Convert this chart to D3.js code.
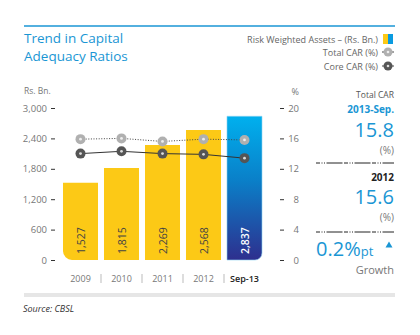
<!DOCTYPE html>
<html>
<head>
<meta charset="utf-8">
<script src="https://cdn.jsdelivr.net/npm/d3@7"></script>
<style>
  body { margin: 0; background: #fff; }
  text { font-family: "Open Sans", sans-serif; }
</style>
</head>
<body>
<div class="canva"></div>
<script>
// data
const categories = ["2009", "2010", "2011", "2012", "Sep-13"];
const rwaValues = [1527, 1815, 2269, 2568, 2837];
const totalCar = [15.9, 16.0, 15.6, 15.9, 15.8];
const coreCar = [14.0, 14.3, 14.0, 13.9, 13.4];
const leftTicks = [0, 600, 1200, 1800, 2400, 3000];
const rightTicks = [0, 4, 8, 12, 16, 20];

const blue = "#1a96d4";
const yellow = "#fcc916";

const svg = d3.select(".canva").append("svg")
  .attr("width", 420)
  .attr("height", 335);

const defs = svg.append("defs");
const grad = defs.append("linearGradient")
  .attr("id", "blueBar")
  .attr("x1", 0).attr("y1", 0).attr("x2", 0).attr("y2", 1);
grad.append("stop").attr("offset", "0%").attr("stop-color", "#00b0ee");
grad.append("stop").attr("offset", "45%").attr("stop-color", "#0a7fc8");
grad.append("stop").attr("offset", "100%").attr("stop-color", "#2e2f8e");

// header
svg.append("line")
  .attr("x1", 24).attr("x2", 395)
  .attr("y1", 26).attr("y2", 26)
  .attr("stroke", blue).attr("stroke-width", 1.3);

svg.append("text").attr("x", 24).attr("y", 43)
  .text("Trend in Capital")
  .style("font-size", "13.5px").style("fill", blue);
svg.append("text").attr("x", 24).attr("y", 60.5)
  .text("Adequacy Ratios")
  .style("font-size", "13.5px").style("fill", blue);

// scales
const x = d3.scaleBand()
  .domain(categories)
  .range([60, 265])
  .paddingInner(0.146)
  .paddingOuter(0.073);

const yLeft = d3.scaleLinear().domain([0, 3000]).range([260, 108]);
const yRight = d3.scaleLinear().domain([0, 20]).range([260, 108]);

// left axis
const leftAxis = svg.append("g")
  .attr("transform", "translate(55,0)")
  .call(d3.axisLeft(yLeft).tickValues(leftTicks).tickFormat(d3.format(",")).tickSize(4).tickPadding(4));
leftAxis.select(".domain").remove();
leftAxis.selectAll("line").attr("stroke", "#333");
leftAxis.selectAll("text").style("font-size", "9.5px").style("fill", "#777")
  .style("font-family", "Open Sans, sans-serif");

svg.append("text").attr("x", 24).attr("y", 94)
  .text("Rs. Bn.").style("font-size", "8.5px").style("fill", "#777");

// right axis
const rightAxis = svg.append("g")
  .attr("transform", "translate(280,0)")
  .call(d3.axisRight(yRight).tickValues(rightTicks).tickSize(4));
rightAxis.select(".domain").remove();
rightAxis.selectAll("line").attr("stroke", "#333");
rightAxis.selectAll("text")
  .attr("x", 19).attr("text-anchor", "end")
  .style("font-size", "9.5px").style("fill", "#777")
  .style("font-family", "Open Sans, sans-serif");

svg.append("text").attr("x", 299).attr("y", 95).attr("text-anchor", "end")
  .text("%").style("font-size", "9px").style("fill", "#777");

// bar path with optional rounded bottom corners
function barPath(x0, y0, w, h, rl, rr) {
  const y1 = y0 + h;
  return `M${x0},${y0}H${x0 + w}` +
    `V${y1 - rr}` + (rr ? `A${rr},${rr} 0 0 1 ${x0 + w - rr},${y1}` : "") +
    `H${x0 + rl}` + (rl ? `A${rl},${rl} 0 0 1 ${x0},${y1 - rl}` : "") +
    `Z`;
}

const last = categories.length - 1;
svg.append("g").selectAll("path")
  .data(rwaValues)
  .enter()
  .append("path")
  .attr("d", (d, i) => barPath(x(categories[i]), yLeft(d), x.bandwidth(), yLeft(0) - yLeft(d),
    i === 0 ? 9 : 0, i === last ? 7 : 0))
  .attr("fill", (d, i) => i === last ? "url(#blueBar)" : yellow)
  .attr("stroke", (d, i) => i === last ? "#8fd3f2" : "none")
  .attr("stroke-width", 0.6);

// bar value labels
svg.append("g").selectAll("text")
  .data(rwaValues)
  .enter()
  .append("text")
  .attr("transform", (d, i) => `translate(${x(categories[i]) + x.bandwidth() / 2 + 4},254) rotate(-90)`)
  .text(d => d3.format(",")(d))
  .style("font-size", "10.5px")
  .style("font-weight", (d, i) => i === last ? "600" : "400")
  .style("fill", (d, i) => i === last ? "#fff" : "#444");

// x labels + separators
svg.append("g").selectAll("text")
  .data(categories)
  .enter()
  .append("text")
  .attr("x", d => x(d) + x.bandwidth() / 2)
  .attr("y", 282)
  .attr("text-anchor", "middle")
  .text(d => d)
  .style("font-size", "9px")
  .style("font-weight", (d, i) => i === last ? "600" : "400")
  .style("fill", (d, i) => i === last ? "#222" : "#777");

svg.append("g").selectAll("line")
  .data(categories.slice(1))
  .enter()
  .append("line")
  .attr("x1", d => x(d) - x.step() * x.paddingInner() / 2)
  .attr("x2", d => x(d) - x.step() * x.paddingInner() / 2)
  .attr("y1", 274).attr("y2", 283)
  .attr("stroke", "#aaa").attr("stroke-width", 0.8);

// lines
const cx = (d, i) => x(categories[i]) + x.bandwidth() / 2;
const totalLine = d3.line().x(cx).y(d => yRight(d));
const coreLine = d3.line().x(cx).y(d => yRight(d));

svg.append("path")
  .datum(totalCar)
  .attr("d", totalLine)
  .attr("fill", "none")
  .attr("stroke", "#444")
  .attr("stroke-width", 1)
  .attr("stroke-dasharray", "1,1.6");

svg.append("path")
  .datum(coreCar)
  .attr("d", coreLine)
  .attr("fill", "none")
  .attr("stroke", "#333")
  .attr("stroke-width", 1);

function markers(data, outer, inner) {
  const g = svg.append("g");
  g.selectAll("circle.o")
    .data(data).enter().append("circle")
    .attr("class", "o")
    .attr("cx", cx).attr("cy", d => yRight(d))
    .attr("r", 5).attr("fill", outer);
  g.selectAll("circle.i")
    .data(data).enter().append("circle")
    .attr("class", "i")
    .attr("cx", cx).attr("cy", d => yRight(d))
    .attr("r", 1.4).attr("fill", inner);
}
markers(totalCar, "#b0b0b0", "#eee");
markers(coreCar, "#555", "#ddd");

// legend
const legend = [
  { label: "Risk Weighted Assets \u2013 (Rs. Bn.)", y: 42.5 },
  { label: "Total CAR (%)", y: 55.5 },
  { label: "Core CAR (%)", y: 69.5 }
];
svg.append("g").selectAll("text")
  .data(legend).enter().append("text")
  .attr("x", 378).attr("y", d => d.y)
  .attr("text-anchor", "end")
  .text(d => d.label)
  .style("font-size", "9px").style("fill", "#666");

svg.append("rect").attr("x", 383).attr("y", 34).attr("width", 5).attr("height", 10).attr("fill", yellow);
svg.append("rect").attr("x", 388).attr("y", 34).attr("width", 5).attr("height", 10).attr("fill", "#0a9be0");

[[52, "#b0b0b0", "#eee"], [66, "#555", "#ddd"]].forEach(m => {
  svg.append("line").attr("x1", 382).attr("x2", 394).attr("y1", m[0]).attr("y2", m[0])
    .attr("stroke", "#444").attr("stroke-width", 1);
  svg.append("circle").attr("cx", 388).attr("cy", m[0]).attr("r", 4.5).attr("fill", m[1]);
  svg.append("circle").attr("cx", 388).attr("cy", m[0]).attr("r", 1.3).attr("fill", m[2]);
});

// right summary panel
const rp = svg.append("g");
rp.append("text").attr("x", 394).attr("y", 98).attr("text-anchor", "end")
  .text("Total CAR").style("font-size", "8.5px").style("fill", "#555");
rp.append("text").attr("x", 394).attr("y", 113).attr("text-anchor", "end")
  .text("2013-Sep.").style("font-size", "10px").style("font-weight", "700").style("fill", blue);
rp.append("text").attr("x", 394).attr("y", 137).attr("text-anchor", "end")
  .text("15.8").style("font-size", "20px").style("fill", blue);
rp.append("text").attr("x", 394).attr("y", 154).attr("text-anchor", "end")
  .text("(%)").style("font-size", "10px").style("fill", "#777");
rp.append("text").attr("x", 394).attr("y", 181).attr("text-anchor", "end")
  .text("2012").style("font-size", "10px").style("font-weight", "700").style("fill", "#222");
rp.append("text").attr("x", 394).attr("y", 204).attr("text-anchor", "end")
  .text("15.6").style("font-size", "20px").style("fill", blue);
rp.append("text").attr("x", 394).attr("y", 221).attr("text-anchor", "end")
  .text("(%)").style("font-size", "10px").style("fill", "#777");

[163, 232].forEach(y => {
  rp.append("line").attr("x1", 316).attr("x2", 394).attr("y1", y).attr("y2", y)
    .attr("stroke", "#222").attr("stroke-width", 1)
    .attr("stroke-dasharray", "4,1.5,1,1.5,1,1.5,16,1.5");
});

const growth = rp.append("text").attr("x", 316).attr("y", 256)
  .style("fill", blue);
growth.append("tspan").text("0.2%").style("font-size", "20px");
growth.append("tspan").text("pt").style("font-size", "13px");

rp.append("path")
  .attr("d", "M385.5,247.5L389,241.5L392.5,247.5Z")
  .attr("fill", blue);

rp.append("text").attr("x", 394).attr("y", 274).attr("text-anchor", "end")
  .text("Growth").style("font-size", "11px").style("fill", "#777");

// footer
svg.append("rect").attr("x", 24).attr("y", 293).attr("width", 371).attr("height", 4).attr("fill", "#e6e6e6");
svg.append("text").attr("x", 23).attr("y", 312)
  .text("Source: CBSL")
  .style("font-size", "9px").style("font-style", "italic").style("fill", "#333");
</script>
</body>
</html>
